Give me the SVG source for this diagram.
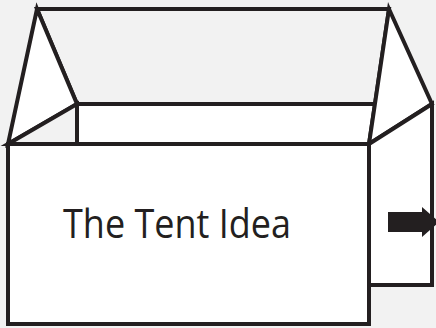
<svg xmlns="http://www.w3.org/2000/svg" width="436" height="328" viewBox="0 0 436 328">
<style>
.s{stroke:#231f20;stroke-width:4;stroke-linejoin:miter;stroke-linecap:square}
.w{fill:#ffffff}
.g{fill:#f2f2f2}
.t{font-family:"Open Sans","Noto Sans",sans-serif;font-size:41px;fill:#231f20}
</style>
<rect width="436" height="328" fill="#f2f2f2"/>
<g id="tent">
<polygon id="roof" class="g s" points="37,9 389,9 375,104 77,104"/>
<polygon id="left-gable" class="w s" points="37,9 8,144 77,104"/>
<polygon id="left-floor" class="g s" points="8,144 77,104 77,144"/>
<polygon id="back-wall" class="w s" points="77,104 375,104 369,144 77,144"/>
<polygon id="right-gable" class="w s" points="389,9 432,104 369,144"/>
<polygon id="right-side" class="w s" points="369,144 432,104 432,285 369,285"/>
<rect id="front" class="w s" x="8" y="144" width="361" height="180"/>
</g>
<g id="label">
<text class="t" x="63" y="238" textLength="228" lengthAdjust="spacingAndGlyphs">The Tent Idea</text>
</g>
<g id="connectors">
<rect x="388" y="212" width="35" height="20" fill="#231f20"/>
<polygon points="422,207 439,222 422,237" fill="#231f20"/>
</g>
</svg>
